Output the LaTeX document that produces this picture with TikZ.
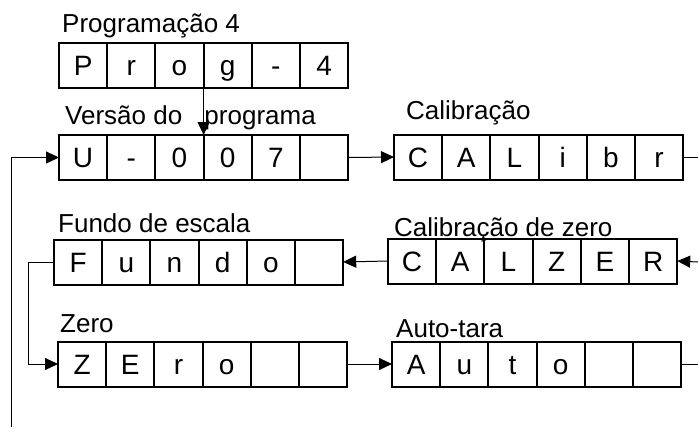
\documentclass[tikz,border=0pt]{standalone}
\usepackage{fontspec}
\setmainfont{Liberation Sans}
\usetikzlibrary{arrows.meta}
\begin{document}
\begin{tikzpicture}[x=1pt,y=-1pt,
  cell/.style={draw, line width=2pt, minimum width=48.2pt, minimum height=45pt,
    inner sep=0pt, outer sep=0pt, text height=20pt, text depth=0pt,
    font=\fontsize{28}{32}\selectfont},
  lbl/.style={anchor=base west, inner sep=0pt, font=\fontsize{26}{30}\selectfont},
  conn/.style={line width=1pt},
  arr/.style={conn, -{Triangle[length=13pt,width=12pt]}},
]
\useasboundingbox (0,0) rectangle (698,429);

% row: name prefix, left x, centre y, letters
\foreach \pre/\lx/\cy/\letters in {
  p/59/65.5/{P,r,o,g,-,4},
  u/59/157.5/{U,-,0,0,7,{}},
  c/394/157/{C,A,L,i,b,r},
  f/54/262/{F,u,n,d,o,{}},
  z/388/261/{C,A,L,Z,E,R},
  e/58/364/{Z,E,r,o,{},{}},
  a/392/364/{A,u,t,o,{},{}}} {
  \foreach \t [count=\i] in \letters {
    \node[cell] (\pre\i) at ({\lx+48.2*(\i-0.5)},\cy) {\t};
  }
}

\node[lbl] (lp) at (62,32) {Programação 4};
\node[lbl] (lu) at (65,124) {Versão do\hspace{15pt} programa};
\node[lbl] (lc) at (406,119) {Calibração};
\node[lbl] (lz) at (394,236) {Calibração de zero};
\node[lbl] (lf) at (58,232) {Fundo de escala};
\node[lbl] (le) at (60,332) {Zero};
\node[lbl] (la) at (396,337) {Auto-tara};

\coordinate (lb) at (11,427);
\coordinate (r1) at (698,157);
\coordinate (r2) at (698,262);
\coordinate (r3) at (698,364);

\draw[arr] (p3.south east) -- (u3.north east);
\draw[arr] (lb) |- (u1.west);
\draw[arr] (u6.east) -- (c1.west);
\draw[conn] (c6.east) -- (r1);
\draw[arr] (r2) -- (z6.east);
\draw[arr] (z1.west) -- (f6.east);
\draw[arr] (f1.west) -- ++(-26,0) |- (e1.west);
\draw[arr] (e6.east) -- (a1.west);
\draw[conn] (a6.east) -- (r3);
\end{tikzpicture}
\end{document}
